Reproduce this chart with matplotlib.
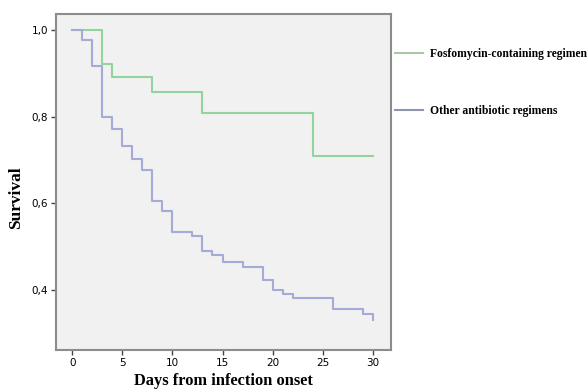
import matplotlib.pyplot as plt
import numpy as np

# Kaplan-Meier estimates
fosfo_days = [0, 3, 4, 8, 13, 24, 30]
fosfo_surv = [1.0, 0.922, 0.892, 0.857, 0.809, 0.710, 0.710]

other_days = [0, 1, 2, 3, 4, 5, 6, 7, 8, 9, 10, 12, 13, 14, 15, 17, 19, 20, 21, 22, 26, 29, 30]
other_surv = [1.0, 0.978, 0.918, 0.800, 0.772, 0.733, 0.702, 0.677, 0.606, 0.582,
              0.533, 0.525, 0.491, 0.481, 0.465, 0.454, 0.423, 0.401, 0.392, 0.381,
              0.356, 0.345, 0.332]

series_labels = ["Fosfomycin-containing regimen", "Other antibiotic regimens"]
x_ticks = [0, 5, 10, 15, 20, 25, 30]
y_ticks = [0.4, 0.6, 0.8, 1.0]

serif = "Liberation Serif"

fig = plt.figure(figsize=(5.88, 3.89), dpi=100)
ax = fig.add_axes([0.0952, 0.1003, 0.5693, 0.8637])
ax.set_facecolor("#f1f1f1")

ax.step(fosfo_days, fosfo_surv, where="post", color="#93d49e", lw=1.5,
        label=series_labels[0])
ax.step(other_days, other_surv, where="post", color="#a3abd6", lw=1.5,
        label=series_labels[1])

ax.set_xlim(-1.63, 31.8)
ax.set_ylim(0.262, 1.037)
ax.set_xticks(x_ticks)
ax.set_xticklabels([str(t) for t in x_ticks], fontsize=7.5)
ax.set_yticks(y_ticks)
ax.set_yticklabels([f"{t:.1f}".replace(".", ",") for t in y_ticks], fontsize=7.5)
ax.tick_params(direction="out", length=3.5, width=1, color="#444444", pad=2)

for s in ax.spines.values():
    s.set_color("#8c8c8c")
    s.set_linewidth(1.5)

ax.set_xlabel("Days from infection onset", fontfamily=serif, fontweight="bold",
              fontsize=11.8, labelpad=4)
fig.text(0.027, 0.491, "Survival", rotation=90, ha="center", va="center",
         fontfamily=serif, fontweight="bold", fontsize=12.5)

leg = fig.legend(loc="upper left", bbox_to_anchor=(0.672, 0.876),
                 bbox_transform=fig.transFigure, frameon=False,
                 prop={"family": serif, "weight": "bold", "size": 8.4},
                 handlelength=2.4, handletextpad=0.6, labelspacing=3.85,
                 borderaxespad=0, borderpad=0)
leg.get_lines()[0].set_color("#a9c8a4")
leg.get_lines()[1].set_color("#8f96ab")

fig.savefig("out.png", dpi=100)
